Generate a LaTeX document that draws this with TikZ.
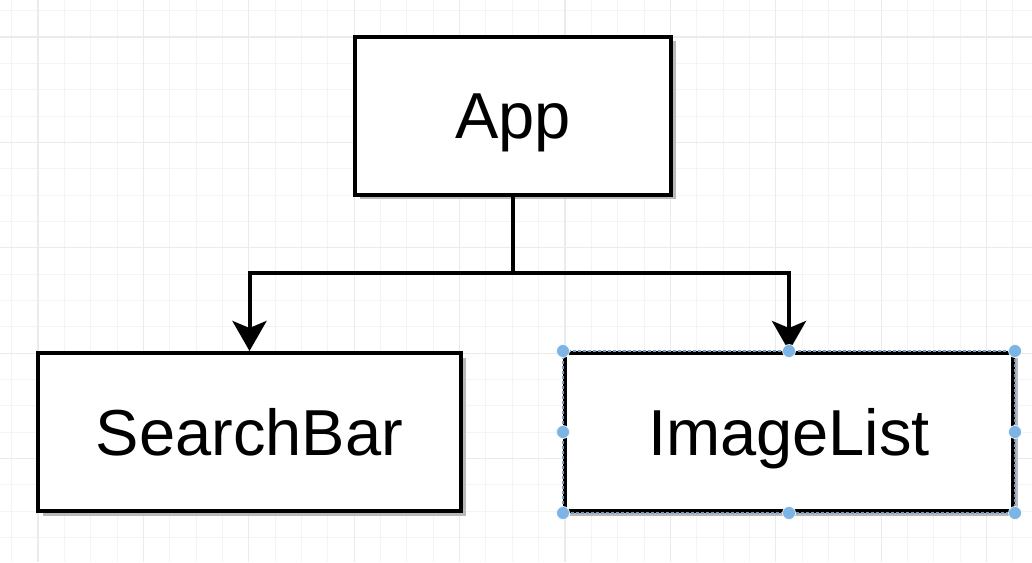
\documentclass[tikz,border=0pt]{standalone}
\usepackage{fontspec}
\setmainfont{Liberation Sans}
\usetikzlibrary{arrows.meta,shadows}
\definecolor{minorgrid}{HTML}{F4F4F4}
\definecolor{majorgrid}{HTML}{EBEBEB}
\definecolor{handle}{HTML}{7DB4E6}
\definecolor{selectdash}{HTML}{7E9CBE}
\begin{document}
\begin{tikzpicture}[x=1pt,y=-1pt,
  block/.style={draw=black, line width=4pt, fill=white, inner sep=0pt,
    minimum height=158pt, font=\fontsize{65}{78}\selectfont,
    text height=46.5pt, text depth=0pt,
    drop shadow={shadow xshift=4.5pt, shadow yshift=-4.5pt, fill=black!30, opacity=0.9}},
  conn/.style={line width=4pt, -{Stealth[length=30pt,width=34pt,inset=7pt]}},
  selbox/.style={selectdash, line width=1.4pt, dash pattern=on 3pt off 2pt},
  grip/.style={fill=handle, draw=white, line width=0.6pt}]

  % page and background grid
  \useasboundingbox (0,0) rectangle (1032,562);
  \fill[white] (0,0) rectangle (1032,562);
  \foreach \i in {0,...,39} {
    \pgfmathsetmacro{\gx}{11.65+26.35*\i}
    \draw[minorgrid, line width=1pt] (\gx,0) -- (\gx,562);
  }
  \foreach \i in {0,...,21} {
    \pgfmathsetmacro{\gy}{10.65+26.35*\i}
    \draw[minorgrid, line width=1pt] (0,\gy) -- (1032,\gy);
  }
  \foreach \i in {0,...,9} {
    \pgfmathsetmacro{\gx}{38+105.4*\i}
    \draw[majorgrid, line width=1.2pt] (\gx,0) -- (\gx,562);
  }
  \foreach \i in {0,...,5} {
    \pgfmathsetmacro{\gy}{37+105.4*\i}
    \draw[majorgrid, line width=1.2pt] (0,\gy) -- (1032,\gy);
  }

  % component boxes
  \node[block, minimum width=316pt] (app) at (513,115.5) {App};
  \node[block, minimum width=423pt] (sb) at (249.5,432) {SearchBar};
  \node[block, minimum width=448pt] (il) at (789,432) {ImageList};

  % selection outline on ImageList
  \draw[selbox] (il.north west) rectangle (il.south east);

  % connectors
  \coordinate (split) at (513,273);
  \draw[line width=4pt] (app.south) -- (split);
  \draw[conn] (split) -| (sb.north);
  \draw[conn] (split) -| (il.north);

  % selection handles
  \foreach \a in {north west,north,north east,east,south east,south,south west,west}
    \filldraw[grip] (il.\a) circle (6.5pt);
\end{tikzpicture}
\end{document}
